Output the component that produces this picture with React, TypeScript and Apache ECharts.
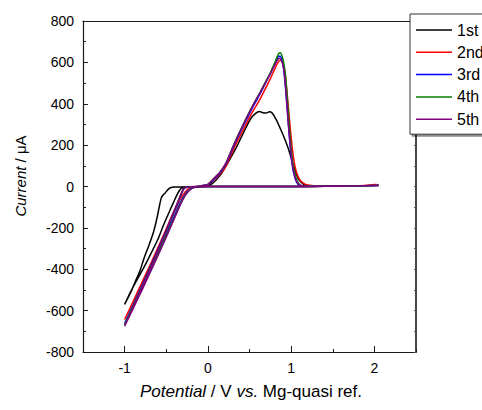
import React, { useEffect, useRef } from "react";
import * as echarts from "echarts";

// Legend names
const cycleNames = ["1st", "2nd", "3rd", "4th", "5th"];
const cycleColors = ["#000000", "#ff0000", "#0000ff", "#008000", "#800080"];

// Axis ticks
const xLabelValues = [-1, 0, 1, 2];

// [potential V, current µA] — cycle 1 (black)
const cycle1: number[][] = [
  [2.05, 5], [1.8, 2], [1.4, 1], [1.0, 0], [0.5, 0], [0, 0], [-0.2, -1], [-0.4, -3],
  [-0.45, -6], [-0.48, -15], [-0.51, -30], [-0.54, -42], [-0.56, -55], [-0.58, -90],
  [-0.61, -150], [-0.65, -216], [-0.7, -275], [-0.77, -350], [-0.81, -401], [-0.87, -458],
  [-0.93, -515], [-1.0, -570],
  [-0.93, -510], [-0.85, -450], [-0.77, -392], [-0.69, -329], [-0.6, -255], [-0.53, -184],
  [-0.45, -110], [-0.4, -65], [-0.37, -39], [-0.34, -18], [-0.32, -9], [-0.25, -5],
  [-0.1, -2], [0, 2], [0.07, 20], [0.15, 55], [0.22, 100], [0.28, 143], [0.35, 195],
  [0.43, 262], [0.51, 325], [0.57, 352], [0.62, 362], [0.66, 357], [0.7, 355], [0.74, 361],
  [0.77, 356], [0.8, 338], [0.83, 316], [0.87, 280], [0.91, 243], [0.97, 179], [1.03, 98],
  [1.09, 34], [1.15, 10], [1.2, 3], [1.5, 1], [1.8, 2], [2.05, 5],
];

// cycle 2 (red)
const cycle2: number[][] = [
  [2.05, 8], [1.8, 3], [1.4, 1], [1.0, 0], [0.5, 0], [0, 0], [-0.22, -1], [-0.27, -5],
  [-0.3, -15], [-0.33, -45], [-0.37, -85], [-0.42, -130], [-0.5, -205], [-0.6, -295],
  [-0.7, -385], [-0.8, -470], [-0.9, -557], [-1.0, -643],
  [-0.9, -560], [-0.8, -475], [-0.7, -390], [-0.6, -300], [-0.5, -210], [-0.4, -120],
  [-0.33, -60], [-0.27, -25], [-0.22, -8], [-0.16, -2], [-0.08, 2], [0, 8], [0.07, 30],
  [0.15, 62], [0.22, 100], [0.31, 182], [0.4, 255], [0.47, 310], [0.55, 370], [0.63, 425],
  [0.7, 480], [0.75, 520], [0.8, 565], [0.84, 598], [0.87, 610], [0.89, 605], [0.91, 585],
  [0.93, 540], [0.95, 460], [0.97, 370], [0.99, 280], [1.01, 200], [1.03, 135], [1.06, 75],
  [1.1, 35], [1.15, 15], [1.2, 7], [1.3, 3], [1.6, 2], [1.9, 5], [2.0, 10], [2.05, 8],
];

// cycle 3 (blue)
const cycle3: number[][] = [
  [2.05, 5], [1.8, 2], [1.4, 1], [1.0, 0], [0.5, 0], [0, 0], [-0.21, -1], [-0.26, -4],
  [-0.29, -12], [-0.32, -38], [-0.36, -78], [-0.41, -125], [-0.5, -212], [-0.6, -305],
  [-0.7, -397], [-0.8, -486], [-0.9, -575], [-1.0, -662],
  [-0.9, -580], [-0.8, -495], [-0.7, -410], [-0.6, -322], [-0.5, -232], [-0.4, -140],
  [-0.33, -78], [-0.27, -36], [-0.21, -12], [-0.15, -3], [-0.08, 3], [0, 9], [0.07, 34],
  [0.15, 68], [0.22, 110], [0.31, 195], [0.4, 272], [0.47, 328], [0.55, 392], [0.63, 450],
  [0.7, 505], [0.75, 545], [0.8, 588], [0.83, 615], [0.85, 630], [0.87, 630], [0.89, 612],
  [0.91, 570], [0.93, 490], [0.95, 390], [0.97, 285], [0.99, 190], [1.01, 115], [1.03, 66],
  [1.06, 25], [1.09, 8], [1.13, 2], [1.4, 1], [1.8, 2], [2.05, 5],
];

// cycle 4 (green)
const cycle4: number[][] = [
  [2.05, 6], [1.8, 2], [1.4, 1], [1.0, 0], [0.5, 0], [0, 0], [-0.2, -1], [-0.26, -3],
  [-0.29, -10], [-0.32, -36], [-0.36, -76], [-0.4, -116], [-0.5, -216], [-0.6, -312],
  [-0.7, -402], [-0.8, -492], [-0.9, -580], [-1.0, -668],
  [-0.9, -588], [-0.8, -503], [-0.7, -418], [-0.6, -330], [-0.5, -240], [-0.4, -148],
  [-0.33, -85], [-0.27, -40], [-0.21, -13], [-0.15, -3], [-0.08, 3], [0, 10], [0.07, 38],
  [0.15, 72], [0.22, 115], [0.31, 202], [0.4, 280], [0.47, 338], [0.55, 400], [0.63, 458],
  [0.7, 512], [0.75, 550], [0.8, 595], [0.83, 625], [0.85, 642], [0.87, 646], [0.89, 632],
  [0.91, 600], [0.93, 545], [0.95, 450], [0.97, 335], [0.99, 230], [1.01, 150], [1.03, 90],
  [1.06, 40], [1.09, 15], [1.13, 4], [1.4, 1], [1.8, 2], [2.05, 6],
];

// cycle 5 (purple)
const cycle5: number[][] = [
  [2.05, 6], [1.8, 3], [1.4, 1], [1.0, 0], [0.5, 0], [0, 0], [-0.2, -1], [-0.26, -3],
  [-0.29, -10], [-0.32, -35], [-0.36, -75], [-0.4, -115], [-0.5, -215], [-0.6, -310],
  [-0.7, -405], [-0.8, -495], [-0.9, -585], [-1.0, -675],
  [-0.9, -592], [-0.8, -508], [-0.7, -422], [-0.6, -335], [-0.5, -245], [-0.4, -152],
  [-0.33, -88], [-0.27, -42], [-0.21, -14], [-0.15, -3], [-0.08, 3], [0, 10], [0.07, 38],
  [0.15, 72], [0.22, 115], [0.31, 200], [0.4, 278], [0.47, 335], [0.55, 398], [0.63, 455],
  [0.7, 508], [0.75, 545], [0.8, 585], [0.83, 608], [0.86, 620], [0.88, 612], [0.9, 590],
  [0.92, 540], [0.94, 450], [0.96, 340], [0.98, 240], [1.0, 160], [1.02, 95], [1.04, 55],
  [1.07, 22], [1.1, 8], [1.15, 3], [1.4, 1], [1.7, 2], [2.05, 6],
];

const cycles = [cycle1, cycle2, cycle3, cycle4, cycle5];

const FONT = "'Liberation Sans', Arial, Helvetica, sans-serif";

export default function App() {
  const ref = useRef<HTMLDivElement>(null);

  useEffect(() => {
    if (!ref.current) return;
    const chart = echarts.init(ref.current, undefined, { renderer: "svg" });
    const axisLine = { show: true, onZero: false, lineStyle: { color: "#1a1a1a", width: 1.2 } };
    chart.setOption({
      animation: false,
      backgroundColor: "#ffffff",
      grid: { left: 83, right: 66, top: 21, bottom: 58, containLabel: false },
      xAxis: [
        {
          type: "value",
          position: "bottom",
          min: -1.5,
          max: 2.5,
          interval: 1,
          axisLine,
          splitLine: { show: false },
          axisTick: { show: true, inside: true, length: 3, lineStyle: { color: "#1a1a1a" } },
          minorTick: { show: true, splitNumber: 2, length: 6, lineStyle: { color: "#1a1a1a" } },
          minorSplitLine: { show: false },
          axisLabel: {
            customValues: xLabelValues,
            color: "#000",
            fontSize: 14,
            fontFamily: FONT,
            margin: 9,
          },
        },
        {
          type: "value",
          position: "top",
          min: -1.5,
          max: 2.5,
          axisLine,
          axisTick: { show: false },
          axisLabel: { show: false },
          splitLine: { show: false },
        },
      ],
      yAxis: [
        {
          type: "value",
          position: "left",
          min: -800,
          max: 800,
          interval: 200,
          axisLine,
          splitLine: { show: false },
          axisTick: { show: true, inside: true, length: 5, lineStyle: { color: "#1a1a1a" } },
          minorTick: { show: true, splitNumber: 2, length: 3, lineStyle: { color: "#1a1a1a" } },
          minorSplitLine: { show: false },
          axisLabel: { color: "#000", fontSize: 14, fontFamily: FONT, margin: 9 },
        },
        {
          type: "value",
          position: "right",
          min: -800,
          max: 800,
          interval: 100,
          axisLine: { show: true, onZero: false, lineStyle: { color: "#333", width: 1.8 } },
          splitLine: { show: false },
          axisTick: { show: true, inside: true, length: 2, lineStyle: { color: "#555" } },
          axisLabel: { show: false },
        },
      ],
      legend: {
        show: true,
        orient: "vertical",
        left: 410,
        top: 14,
        data: cycleNames,
        itemWidth: 36,
        itemHeight: 14,
        itemGap: 6.3,
        padding: [8, 6, 7, 6],
        backgroundColor: "#ffffff",
        borderColor: "#333",
        borderWidth: 1,
        borderRadius: 0,
        shadowColor: "rgba(0,0,0,0.45)",
        shadowOffsetX: 2,
        shadowOffsetY: 2,
        shadowBlur: 0,
        textStyle: { color: "#000", fontSize: 16, fontFamily: FONT },
        icon: "path://M0,0 L36,0 L36,1.5 L0,1.5 Z",
      },
      series: cycles.map((c, i) => ({
        name: cycleNames[i],
        type: "line",
        data: c,
        xAxisIndex: 0,
        yAxisIndex: 0,
        symbol: "none",
        showSymbol: false,
        smooth: 0.2,
        lineStyle: { color: cycleColors[i], width: 1.5 },
        itemStyle: { color: cycleColors[i] },
        z: 2 + i,
      })),
      graphic: [
        {
          type: "text",
          x: 20,
          y: 176,
          rotation: Math.PI / 2,
          style: {
            text: "{i|Current} / μA",
            fontSize: 15,
            fontFamily: FONT,
            fill: "#000",
            align: "center",
            verticalAlign: "middle",
            rich: { i: { fontStyle: "italic", fontSize: 15, fontFamily: FONT, fill: "#000" } },
          },
        },
        {
          type: "text",
          x: 251,
          y: 391,
          style: {
            text: "{i|Potential} / V {i|vs.} Mg-quasi ref.",
            fontSize: 17,
            fontFamily: FONT,
            fill: "#000",
            align: "center",
            verticalAlign: "middle",
            rich: { i: { fontStyle: "italic", fontSize: 17, fontFamily: FONT, fill: "#000" } },
          },
        },
      ],
    });
    return () => chart.dispose();
  }, []);

  return <div ref={ref} style={{ width: 482, height: 410, position: "absolute", left: 0, top: 0 }} />;
}
